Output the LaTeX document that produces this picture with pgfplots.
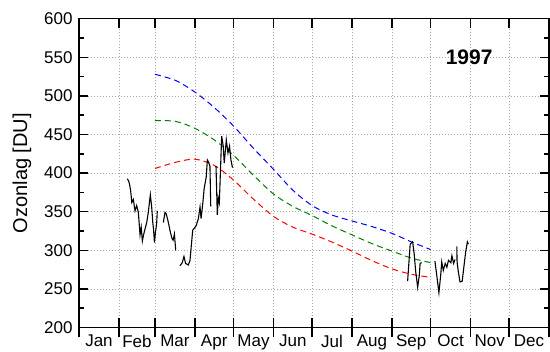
\documentclass[border=0pt]{standalone}
\usepackage{fontspec}
\setmainfont{Liberation Sans}
\usepackage{pgfplots}
\pgfplotsset{compat=1.18}
\definecolor{dgreen}{RGB}{0,128,0}
\begin{document}
\begin{tikzpicture}
\useasboundingbox (-79bp,-24.5bp) rectangle (471bp,327.5bp);
\begin{axis}[
  at={(0,0)}, anchor=south west,
  scale only axis, width=470bp, height=308.8bp,
  xmin=0, xmax=365, ymin=200, ymax=600,
  xtick={0,31,59,90,120,151,181,212,243,273,304,334,365},
  xticklabels={Jan,Feb,Mar,Apr,May,Jun,Jul,Aug,Sep,Oct,Nov,Dec},
  x tick label as interval,
  ytick={200,250,...,600},
  minor y tick num=1,
  tick align=inside,
  tick pos=both,
  major tick length=9bp, minor tick length=5bp,
  grid=major,
  major grid style={gray!70, line width=0.6bp, dash pattern=on 1bp off 2bp},
  axis line style={line width=1.3bp},
  every tick/.style={black, line width=1.5bp},
  tick label style={font=\fontsize{17bp}{20bp}\selectfont},
  /pgf/number format/assume math mode=true,
  yticklabel style={xshift=-3bp},
  xticklabel style={yshift=-4bp},
  ylabel={Ozonlag [DU]},
  every axis y label/.style={at={(axis description cs:-0.1213,0.5)}, rotate=90, anchor=center, font=\fontsize{20bp}{24bp}\selectfont},
]
% dashed climatology curves
\addplot[blue, line width=1bp, dash pattern=on 6bp off 4bp, smooth] coordinates {
(59,528)(75,520)(90,505)(105,485)(120,461)(135,433)(151,405)(166,378)(181,358)(196,346)(212,338)(227,331)(243,322)(258,311)(273,301)};
\addplot[dgreen, line width=1bp, dash pattern=on 6bp off 4bp, smooth] coordinates {
(59,468)(75,467)(90,458)(105,443)(120,423)(135,398)(151,373)(166,357)(181,345)(196,332)(212,320)(227,309)(243,299)(258,290)(273,284)};
\addplot[red, line width=1bp, dash pattern=on 6bp off 4bp, smooth] coordinates {
(59,406)(75,414)(90,418)(105,410)(120,391)(135,367)(151,344)(166,330)(181,321)(196,311)(212,299)(227,287)(243,276)(258,269)(273,265)};
% measured ozone
\addplot[black, line width=1.1bp] coordinates {
(37.5,392.5)(38.5,390)(39.2,386)(40.2,376)(41,362)(42.2,366)(43.5,351)(44.8,358)(46.1,349)(47.4,320)(48.3,330)(49.2,312)(50,319)(51.5,329)(52.6,336)(53.8,349)(55.4,372)(56.5,355)(57.3,336)(57.9,327)(58.6,310)(59.5,325)(60.3,334)(60.8,351)};
\addplot[black, line width=1.1bp] coordinates {
(65.5,336)(66.8,349)(67.8,347)(69.4,336)(71,323)(72.3,315)(73.1,313)(74.1,321)(75.1,300)};
\addplot[black, line width=1.1bp] coordinates {
(78.4,280)(80.2,284)(81.5,292)(82.8,283)(84.9,281)(86.2,287)(88.3,326)(89.3,328)(91,332)(92.7,341)(94,356)(94.8,341)(96.2,362)(97.2,380)(98.8,395)(99.7,417)(100.7,414)(101.7,409)(102.3,357)};
\addplot[black, line width=1.1bp] coordinates {
(106.4,409)(107.4,346)(108.2,368)(109,362)(110.8,448)(112,435)(112.8,413)(114.4,443)(115.7,426)(116.9,435)(118,417)(119.2,407)};
\addplot[black, line width=1.1bp] coordinates {
(255.2,260)(257.2,308)(259.1,311)(260.3,295)(261.5,272)(263,252)(264.3,268)(264.9,283)(266.1,284)};
\addplot[black, line width=1.1bp] coordinates {
(276.4,286)(277.8,268)(279.5,245)(280.9,268)(281.7,285)(282.9,274)(284.4,283)(285.7,278)(286.9,287)(288.8,284)(289.6,293)(290.9,283)(292,288)};
\addplot[black, line width=1.1bp] coordinates {
(293.4,305)(293.6,285)(294.6,272)(295.9,259)(297.6,260)(299,280)(300.3,298)(301.6,311)(302.4,308)};
\node[font=\bfseries\fontsize{21bp}{24bp}\selectfont] at (axis cs:303,550) {1997};
\end{axis}
% overlay axis drawn last: inward ticks on all four sides, on top of everything
\begin{axis}[
  at={(0,0)}, anchor=south west,
  scale only axis, width=470bp, height=308.8bp,
  xmin=0, xmax=365, ymin=200, ymax=600,
  xtick={0,31,59,90,120,151,181,212,243,273,304,334,365},
  ytick={200,250,...,600},
  minor y tick num=1,
  xticklabels={}, yticklabels={},
  tick align=inside, tick pos=both,
  major tick length=9bp, minor tick length=5bp,
  axis line style={line width=1.3bp},
  every tick/.style={black, line width=1.5bp},
]
\end{axis}
% overlay axis: outward ticks on the bottom edge only
\begin{axis}[
  at={(0,0)}, anchor=south west,
  scale only axis, width=470bp, height=308.8bp,
  xmin=0, xmax=365, ymin=200, ymax=600,
  axis x line*=bottom, hide y axis,
  xtick={0,31,59,90,120,151,181,212,243,273,304,334,365},
  xticklabels={},
  xtick align=outside,
  major tick length=9bp,
  axis line style={line width=1.3bp, -},
  every tick/.style={black, line width=1.5bp},
]
\end{axis}
\end{tikzpicture}
\end{document}
